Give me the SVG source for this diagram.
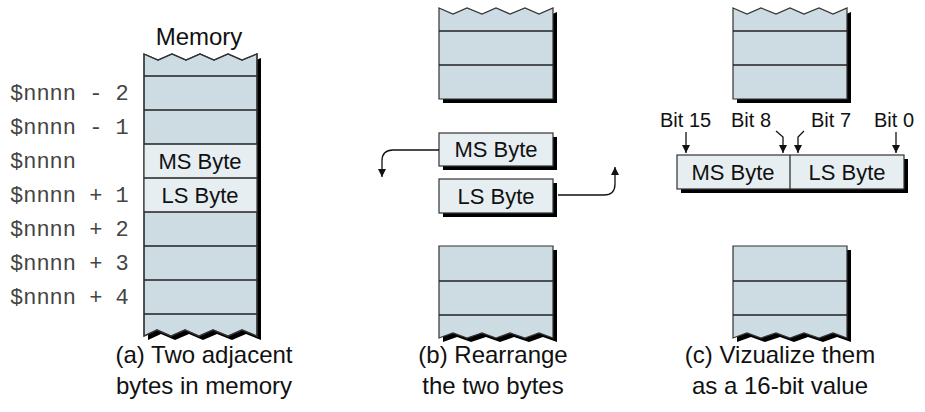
<svg xmlns="http://www.w3.org/2000/svg" xmlns:xlink="http://www.w3.org/1999/xlink" width="925" height="412" viewBox="0 0 925 412">
<style>
.blk{fill:#cddbe2;stroke:#333;stroke-width:1.2}
.lite{fill:#e7eef2;stroke:#333;stroke-width:1.2}
.shd{fill:#000;stroke:none}
.row{stroke:#222;stroke-width:1.4;fill:none}
.out{fill:none;stroke:#333;stroke-width:1.2}
.lbl{font-family:"Liberation Sans",Arial,sans-serif;font-size:22px;fill:#111;text-anchor:middle}
.mem{font-family:"Liberation Sans",Arial,sans-serif;font-size:24px;fill:#111;text-anchor:middle}
.cap{font-family:"Liberation Sans",Arial,sans-serif;font-size:24px;fill:#111;text-anchor:middle}
.bit{font-family:"Liberation Sans",Arial,sans-serif;font-size:20px;fill:#111}
.addr{font-family:"Liberation Mono","Courier New",monospace;font-size:22px;fill:#444;white-space:pre}
.con{fill:none;stroke:#111;stroke-width:1.3}
</style>
<defs>
<marker id="ah" viewBox="0 0 10 10" refX="10" refY="5" markerWidth="10" markerHeight="8" markerUnits="userSpaceOnUse" orient="auto">
<path d="M0,0 L10,5 L0,10 z" fill="#111"/>
</marker>
<path id="colA" d="M144,54 L158,60 L172,54 L186,60 L200,54 L214,60 L228,54 L242,60 L257,54 L257,336 L242,330 L228,336 L213,330 L199,336 L185,330 L171,336 L157,330 L144,336 Z"/>
<path id="topB" d="M439,8 L453,14 L467,8 L482,14 L496,8 L510,14 L525,8 L539,14 L553,8 L553,99 L439,99 Z"/>
<path id="botB" d="M439,246 L553,246 L553,338 L539,333 L525,338 L510,333 L496,338 L482,333 L467,338 L453,333 L439,338 Z"/>
</defs>
<rect width="925" height="412" fill="#fff"/>

<g id="memory-column">
<use href="#colA" class="shd" transform="translate(4,4)"/>
<use href="#colA" class="blk"/>
<rect x="144" y="144" width="113" height="68" fill="#e7eef2"/>
<path class="row" d="M144,76H257M144,110H257M144,144H257M144,178H257M144,212H257M144,246H257M144,280H257M144,314H257"/>
<use href="#colA" class="out"/>
<text class="mem" x="199" y="45">Memory</text>
<text class="lbl" x="200" y="169">MS Byte</text>
<text class="lbl" x="200" y="203">LS Byte</text>
</g>

<g id="addresses">
<text class="addr" x="10" y="100">$nnnn - 2</text>
<text class="addr" x="10" y="134">$nnnn - 1</text>
<text class="addr" x="10" y="168">$nnnn</text>
<text class="addr" x="10" y="202">$nnnn + 1</text>
<text class="addr" x="10" y="236">$nnnn + 2</text>
<text class="addr" x="10" y="270">$nnnn + 3</text>
<text class="addr" x="10" y="304">$nnnn + 4</text>
</g>

<g id="b-top-block">
<use href="#topB" class="shd" transform="translate(4,4)"/>
<use href="#topB" class="blk"/>
<path class="row" d="M439,31H553M439,65H553"/>
</g>
<g id="b-ms-byte">
<rect x="443" y="137" width="114" height="33" class="shd"/>
<rect x="439" y="133" width="114" height="33" class="lite"/>
<text class="lbl" x="496" y="157">MS Byte</text>
</g>
<g id="b-ls-byte">
<rect x="443" y="183" width="114" height="34" class="shd"/>
<rect x="439" y="179" width="114" height="34" class="lite"/>
<text class="lbl" x="496" y="204">LS Byte</text>
</g>
<g id="b-bottom-block">
<use href="#botB" class="shd" transform="translate(4,4)"/>
<use href="#botB" class="blk"/>
<path class="row" d="M439,281H553M439,315H553"/>
</g>

<g id="c-top-block" transform="translate(294,0)">
<use href="#topB" class="shd" transform="translate(4,4)"/>
<use href="#topB" class="blk"/>
<path class="row" d="M439,31H553M439,65H553"/>
</g>
<g id="c-value">
<rect x="681" y="159" width="227" height="34" class="shd"/>
<rect x="677" y="155" width="227" height="34" class="lite"/>
<path class="row" d="M790,155V189" style="stroke-width:1.2"/>
<text class="lbl" x="733" y="180">MS Byte</text>
<text class="lbl" x="847" y="180">LS Byte</text>
</g>
<g id="c-bits">
<text class="bit" x="660" y="127">Bit 15</text>
<text class="bit" x="731" y="127">Bit 8</text>
<text class="bit" x="811" y="127">Bit 7</text>
<text class="bit" x="874" y="127">Bit 0</text>
</g>
<g id="c-bottom-block" transform="translate(294,0)">
<use href="#botB" class="shd" transform="translate(4,4)"/>
<use href="#botB" class="blk"/>
<path class="row" d="M439,281H553M439,315H553"/>
</g>

<g id="connectors">
<path class="con" d="M439,150 H393 Q382,150 382,161 V177" marker-end="url(#ah)"/>
<path class="con" d="M558,195 H604 Q615,195 615,184 V167" marker-end="url(#ah)"/>
<path class="con" d="M686,132 V153" marker-end="url(#ah)"/>
<path class="con" d="M776,131 L783,137 V153" marker-end="url(#ah)"/>
<path class="con" d="M804,131 L798,137 V153" marker-end="url(#ah)"/>
<path class="con" d="M896,132 V153" marker-end="url(#ah)"/>
</g>

<g id="captions">
<text class="cap" x="204" y="363">(a) Two adjacent</text>
<text class="cap" x="204" y="394">bytes in memory</text>
<text class="cap" x="493" y="363">(b) Rearrange</text>
<text class="cap" x="493" y="394">the two bytes</text>
<text class="cap" x="780" y="363">(c) Vizualize them</text>
<text class="cap" x="780" y="394">as a 16-bit value</text>
</g>
</svg>
